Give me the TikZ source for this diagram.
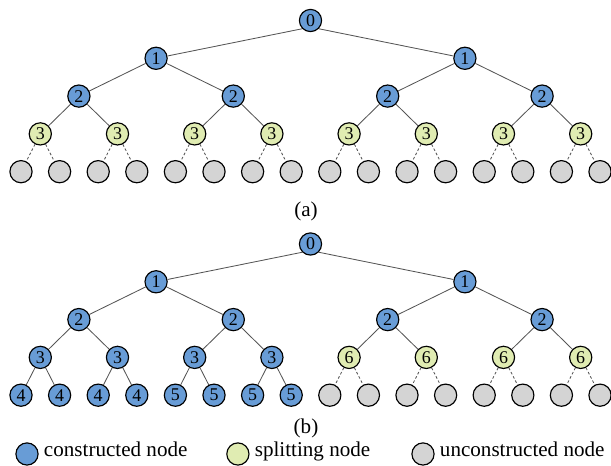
\documentclass[tikz,border=0pt]{standalone}
\usepackage{fontspec}
\setmainfont{Liberation Serif}
\usetikzlibrary{positioning}
\definecolor{conblue}{RGB}{104,156,214}
\definecolor{splitgreen}{RGB}{224,236,178}
\definecolor{ungray}{RGB}{212,212,212}
\definecolor{edgegray}{RGB}{85,85,85}
\tikzset{
  cnode/.style={circle, draw=black, line width=1.1pt, fill=conblue,
    minimum size=0.74cm, inner sep=0pt, font=\fontsize{17}{17}\selectfont},
  snode/.style={cnode, fill=splitgreen},
  unode/.style={cnode, fill=ungray},
  tedge/.style={edgegray, line width=0.8pt},
  dedge/.style={tedge, dash pattern=on 2.5pt off 2pt},
  lbl/.style={inner sep=0pt, font=\fontsize{20}{20}\selectfont},
  keylbl/.style={lbl, text height=1.45ex, text depth=0.45ex}
}
\begin{document}
\begin{tikzpicture}
\useasboundingbox (0,0) rectangle (20.367,15.533);

% tree (a)
\node[cnode] (a0) at (10.35,14.85) {0};
\node[cnode] (a1-0) at (5.2033,13.59) {1};
\node[cnode] (a1-1) at (15.4967,13.59) {1};
\draw[tedge] (a0.225) -- (a1-0);
\draw[tedge] (a0.-45) -- (a1-1);
\foreach \k in {0,...,3}{
  \pgfmathtruncatemacro\p{\k/2}
  \node[cnode] (a2-\k) at ({2.63+5.1467*\k},12.33) {2};
  \draw[tedge] (a1-\p) -- (a2-\k);
}
\foreach \k in {0,...,7}{
  \pgfmathtruncatemacro\p{\k/2}
  \node[snode] (a3-\k) at ({1.3433+2.5733*\k},11.07) {3};
  \draw[tedge] (a2-\p) -- (a3-\k);
}
\foreach \k in {0,...,15}{
  \pgfmathtruncatemacro\p{\k/2}
  \node[unode] (a4-\k) at ({0.7+1.2867*\k},9.81) {};
  \draw[dedge] (a3-\p) -- (a4-\k);
}
\node[lbl] (capa) at (10.2,8.47) {(a)};

% tree (b)
\node[cnode] (b0) at (10.35,7.4) {0};
\node[cnode] (b1-0) at (5.2033,6.14) {1};
\node[cnode] (b1-1) at (15.4967,6.14) {1};
\draw[tedge] (b0.225) -- (b1-0);
\draw[tedge] (b0.-45) -- (b1-1);
\foreach \k in {0,...,3}{
  \pgfmathtruncatemacro\p{\k/2}
  \node[cnode] (b2-\k) at ({2.63+5.1467*\k},4.88) {2};
  \draw[tedge] (b1-\p) -- (b2-\k);
}
\foreach \k in {0,...,3}{
  \pgfmathtruncatemacro\p{\k/2}
  \node[cnode] (b3-\k) at ({1.3433+2.5733*\k},3.62) {3};
  \draw[tedge] (b2-\p) -- (b3-\k);
}
\foreach \k in {4,...,7}{
  \pgfmathtruncatemacro\p{\k/2}
  \node[snode] (b3-\k) at ({1.3433+2.5733*\k},3.62) {6};
  \draw[tedge] (b2-\p) -- (b3-\k);
}
\foreach \k/\n in {0/4,1/4,2/4,3/4,4/5,5/5,6/5,7/5}{
  \pgfmathtruncatemacro\p{\k/2}
  \node[cnode] (b4-\k) at ({0.7+1.2867*\k},2.36) {\n};
  \draw[tedge] (b3-\p) -- (b4-\k);
}
\foreach \k in {8,...,15}{
  \pgfmathtruncatemacro\p{\k/2}
  \node[unode] (b4-\k) at ({0.7+1.2867*\k},2.36) {};
  \draw[dedge] (b3-\p) -- (b4-\k);
}
\node[lbl] (capb) at (10.2,1.24) {(b)};

% legend
\node[cnode] (kc) at (0.9,0.4) {};
\node[keylbl, right=0.17cm of kc] (kct) {constructed node};
\node[snode] (ks) at (7.93,0.4) {};
\node[keylbl, right=0.17cm of ks] (kst) {splitting node};
\node[unode] (ku) at (14.1,0.4) {};
\node[keylbl, right=0.17cm of ku] (kut) {unconstructed node};

\end{tikzpicture}
\end{document}
